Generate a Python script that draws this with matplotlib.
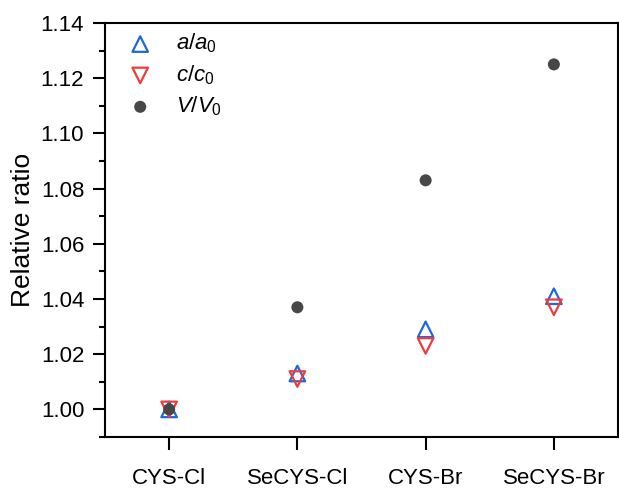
import matplotlib
matplotlib.use("Agg")
import matplotlib.pyplot as plt
from matplotlib.ticker import MultipleLocator, FormatStrFormatter

plt.rcParams['font.family'] = ['Liberation Sans', 'DejaVu Sans']
plt.rcParams['mathtext.fontset'] = 'custom'
plt.rcParams['mathtext.rm'] = 'Liberation Sans'
plt.rcParams['mathtext.it'] = 'Liberation Sans:italic'

samples = ['CYS-Cl', 'SeCYS-Cl', 'CYS-Br', 'SeCYS-Br']
a_ratio = [1.000, 1.013, 1.029, 1.041]
c_ratio = [1.000, 1.011, 1.023, 1.037]
v_ratio = [1.000, 1.037, 1.083, 1.125]

fig = plt.figure(figsize=(6.19, 4.91), dpi=100)
ax = fig.add_axes([105/619, 54/491, 513/619, 414/491])

x = list(range(len(samples)))
ax.scatter(x, a_ratio, marker='^', s=125, facecolors='none', edgecolors='#1f66e0',
           linewidths=1.6, label=r'$\mathit{a/a}_0$', zorder=2)
ax.scatter(x, c_ratio, marker='v', s=125, facecolors='none', edgecolors='#ee3b3b',
           linewidths=1.6, label=r'$\mathit{c/c}_0$', zorder=3)
# volume ratio drawn last so it sits on top of the triangles
ax.scatter(x, v_ratio, marker='o', s=75, color='#474747', edgecolors='none',
           label=r'$\mathit{V/V}_0$', zorder=4)

ax.set_xlim(-0.5, 3.5)
ax.set_ylim(0.99, 1.14)
ax.set_xticks(x)
ax.set_xticklabels(samples)
ax.yaxis.set_major_locator(MultipleLocator(0.02))
ax.yaxis.set_minor_locator(MultipleLocator(0.01))
ax.yaxis.set_major_formatter(FormatStrFormatter('%.2f'))

ax.tick_params(axis='both', which='major', direction='out', length=9, width=1.5,
               labelsize=16, pad=6)
ax.tick_params(axis='y', which='minor', direction='out', length=4.5, width=1.5)
ax.tick_params(axis='x', which='major', pad=13)
for sp in ax.spines.values():
    sp.set_linewidth(1.5)

ax.set_ylabel('Relative ratio', fontsize=19, labelpad=4)

ax.legend(loc='upper left', bbox_to_anchor=(0.008, 1.0), frameon=False, fontsize=16,
          handletextpad=0.6, labelspacing=0.35, borderaxespad=0.0, borderpad=0.4)

fig.savefig('out.png', dpi=100)
